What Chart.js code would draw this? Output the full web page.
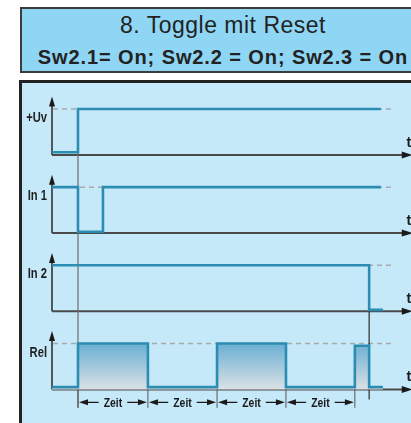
<!DOCTYPE html>
<html>
<head>
<meta charset="utf-8">
<script src="https://cdn.jsdelivr.net/npm/chart.js@4"></script>
<style>
  html, body { margin: 0; padding: 0; background: #fff; }
  body { width: 411px; height: 423px; overflow: hidden; position: relative; font-family: "Liberation Sans", Arial, sans-serif; }
  #head {
    position: absolute; left: 20px; top: 7px; width: 402px; height: 62px;
    background: #8fd6f5; border: 2px solid #3c3c3c; color: #222; text-align: center;
  }
  #head .t1 { position: absolute; left: 0; right: 0; top: 3px; font-size: 23px; letter-spacing: 0.5px; }
  #head .t2 { position: absolute; left: 0; right: 0; top: 37px; font-size: 20px; font-weight: bold; letter-spacing: 0.9px; }
  #panel {
    position: absolute; left: 19px; top: 80px; width: 410px; height: 360px;
    background: #c6e9f9; border-left: 3px solid #222; border-top: 3px solid #222;
  }
  #diagram { position: absolute; left: 0; top: 0; }
</style>
</head>
<body>
<div id="head">
  <div class="t1">8. Toggle mit Reset</div>
  <div class="t2">Sw2.1= On; Sw2.2 = On; Sw2.3 = On</div>
</div>
<div id="panel"></div>
<canvas id="diagram" width="411" height="423"></canvas>
<script>
// lanes of the timing diagram
const lanes = ["+Uv", "In 1", "In 2", "Rel"];

// signal edges (time) and logic levels (0..1)
const uvTimes = [0, 1, 12.65];
const uvLevels = [0.06, 1, 1];

const in1Times = [0, 1, 1.96, 12.65];
const in1Levels = [1, 0.03, 1, 1];

const in2Times = [0, 12.2, 12.73];
const in2Levels = [1, 0.03, 0.03];

const relTimes = [0, 1, 3.69, 6.35, 9.0, 11.65, 12.2, 12.73];
const relLevels = [0.05, 1, 0.05, 1, 0.05, 0.95, 0.05, 0.05];

// "Zeit" dimension marks
const zeitMarks = [1, 3.69, 6.35, 9.0, 11.65];
const zeitLabel = "Zeit";

// layout
const LANE_GAP = 1.7;
const laneBase = lanes.map((l, i) => -i * LANE_GAP);
const DASH_END = 13.1, AXIS_END = 13.8;
const SIG = "#2c8db3";
const NARROW = 0.8;

function pts(times, levels, lane) {
  return times.map((t, i) => ({ x: t, y: laneBase[lane] + levels[i] }));
}

function relGradient(ctx) {
  const chart = ctx.chart;
  if (!chart.chartArea) return "rgba(110,175,210,0.6)";
  const y = chart.scales.y;
  const g = chart.ctx.createLinearGradient(0, y.getPixelForValue(laneBase[3] + 1), 0, y.getPixelForValue(laneBase[3]));
  g.addColorStop(0, "#6aafd2");
  g.addColorStop(1, "#dae1e6");
  return g;
}

function arrowHead(c, x, y, dir, len, half) {
  c.beginPath();
  if (dir === "up") { c.moveTo(x, y); c.lineTo(x - half, y + len); c.lineTo(x + half, y + len); }
  if (dir === "right") { c.moveTo(x, y); c.lineTo(x - len, y - half); c.lineTo(x - len, y + half); }
  if (dir === "left") { c.moveTo(x, y); c.lineTo(x + len, y - half); c.lineTo(x + len, y + half); }
  c.closePath();
  c.fill();
}

// condensed text (no narrow font installed)
function narrowText(c, txt, x, y) {
  c.save();
  c.translate(x, y);
  c.scale(NARROW, 1);
  c.fillText(txt, 0, 0);
  c.restore();
}

const timingPlugin = {
  id: "timing",
  beforeDatasetsDraw(chart) {
    const c = chart.ctx, xs = chart.scales.x, ys = chart.scales.y;
    const X = v => xs.getPixelForValue(v), Y = v => ys.getPixelForValue(v);
    c.save();
    laneBase.forEach((b, i) => {
      // dashed high level
      c.strokeStyle = "#a9a9a9"; c.lineWidth = 1.5; c.setLineDash([5, 4]);
      c.beginPath(); c.moveTo(X(0) + 1, Y(b + 1)); c.lineTo(X(DASH_END), Y(b + 1)); c.stroke();
      c.setLineDash([]);
      // axes
      c.strokeStyle = "#333"; c.fillStyle = "#1a1a1a"; c.lineWidth = 1.6;
      c.beginPath(); c.moveTo(X(0), Y(b)); c.lineTo(X(0), Y(b + 1.2)); c.stroke();
      arrowHead(c, X(0), Y(b + 1.27), "up", 10, 3);
      c.strokeStyle = "#4a4a4a"; c.lineWidth = 2;
      c.beginPath(); c.moveTo(X(0), Y(b)); c.lineTo(X(AXIS_END) - 6, Y(b)); c.stroke();
      arrowHead(c, X(AXIS_END) + 2, Y(b), "right", 11, 3.5);
      c.fillStyle = "#1a1a1a"; c.font = "bold 14px 'Liberation Sans', Arial, sans-serif";
      c.textAlign = "center"; c.textBaseline = "alphabetic";
      c.fillText("t", X(AXIS_END) - 2, Y(b) - 8);
    });
    // guide lines
    c.strokeStyle = "#6d6d6d"; c.lineWidth = 1.2;
    c.beginPath(); c.moveTo(X(1), Y(laneBase[0] + 1)); c.lineTo(X(1), Y(laneBase[3] - 0.4)); c.stroke();
    c.strokeStyle = "#2a2a2a";
    c.beginPath(); c.moveTo(X(in2Times[1]), Y(laneBase[2])); c.lineTo(X(in2Times[1]), Y(laneBase[3] - 0.22)); c.stroke();
    c.restore();
  },
  afterDatasetsDraw(chart) {
    const c = chart.ctx, xs = chart.scales.x, ys = chart.scales.y;
    const X = v => xs.getPixelForValue(v), Y = v => ys.getPixelForValue(v);
    c.save();
    c.fillStyle = "#1f1f1f"; c.font = "bold 14px 'Liberation Sans', Arial, sans-serif";
    c.textAlign = "right"; c.textBaseline = "middle";
    lanes.forEach((name, i) => narrowText(c, name, X(-0.19), Y(laneBase[i] + 0.8)));
    // Zeit dimensions
    const b = laneBase[3];
    c.strokeStyle = "#555"; c.lineWidth = 1;
    zeitMarks.forEach(t => {
      c.beginPath(); c.moveTo(X(t), Y(b)); c.lineTo(X(t), Y(b - 0.4)); c.stroke();
    });
    const yd = Y(b - 0.28);
    c.font = "bold 13px 'Liberation Sans', Arial, sans-serif";
    c.textAlign = "center";
    for (let i = 0; i < zeitMarks.length - 1; i++) {
      const x1 = X(zeitMarks[i]), x2 = X(zeitMarks[i + 1]), xm = (x1 + x2) / 2;
      const half = c.measureText(zeitLabel).width * NARROW / 2 + 5;
      c.fillStyle = "#1a1a1a"; c.strokeStyle = "#1a1a1a"; c.lineWidth = 1.3;
      c.beginPath(); c.moveTo(x1 + 8, yd); c.lineTo(xm - half, yd); c.moveTo(xm + half, yd); c.lineTo(x2 - 8, yd); c.stroke();
      arrowHead(c, x1 + 1, yd, "left", 9, 3);
      arrowHead(c, x2 - 1, yd, "right", 9, 3);
      narrowText(c, zeitLabel, xm, yd + 1);
    }
    c.restore();
  }
};

const lineDs = (data, extra) => Object.assign({
  data, stepped: true, borderColor: SIG, borderWidth: 2.6,
  pointRadius: 0, fill: false, borderJoinStyle: "miter"
}, extra || {});

new Chart(document.getElementById("diagram"), {
  type: "line",
  data: {
    datasets: [
      lineDs(pts(uvTimes, uvLevels, 0)),
      lineDs(pts(in1Times, in1Levels, 1)),
      lineDs(pts(in2Times, in2Levels, 2)),
      lineDs(pts(relTimes, relLevels, 3), { fill: { value: laneBase[3] }, backgroundColor: relGradient })
    ]
  },
  options: {
    responsive: false,
    animation: false,
    layout: { padding: 0 },
    plugins: { legend: { display: false }, tooltip: { enabled: false } },
    scales: {
      x: { type: "linear", min: -2, max: 13.81, display: false },
      y: { type: "linear", min: -5.83, max: 3.37, display: false }
    }
  },
  plugins: [timingPlugin]
});
</script>
</body>
</html>
